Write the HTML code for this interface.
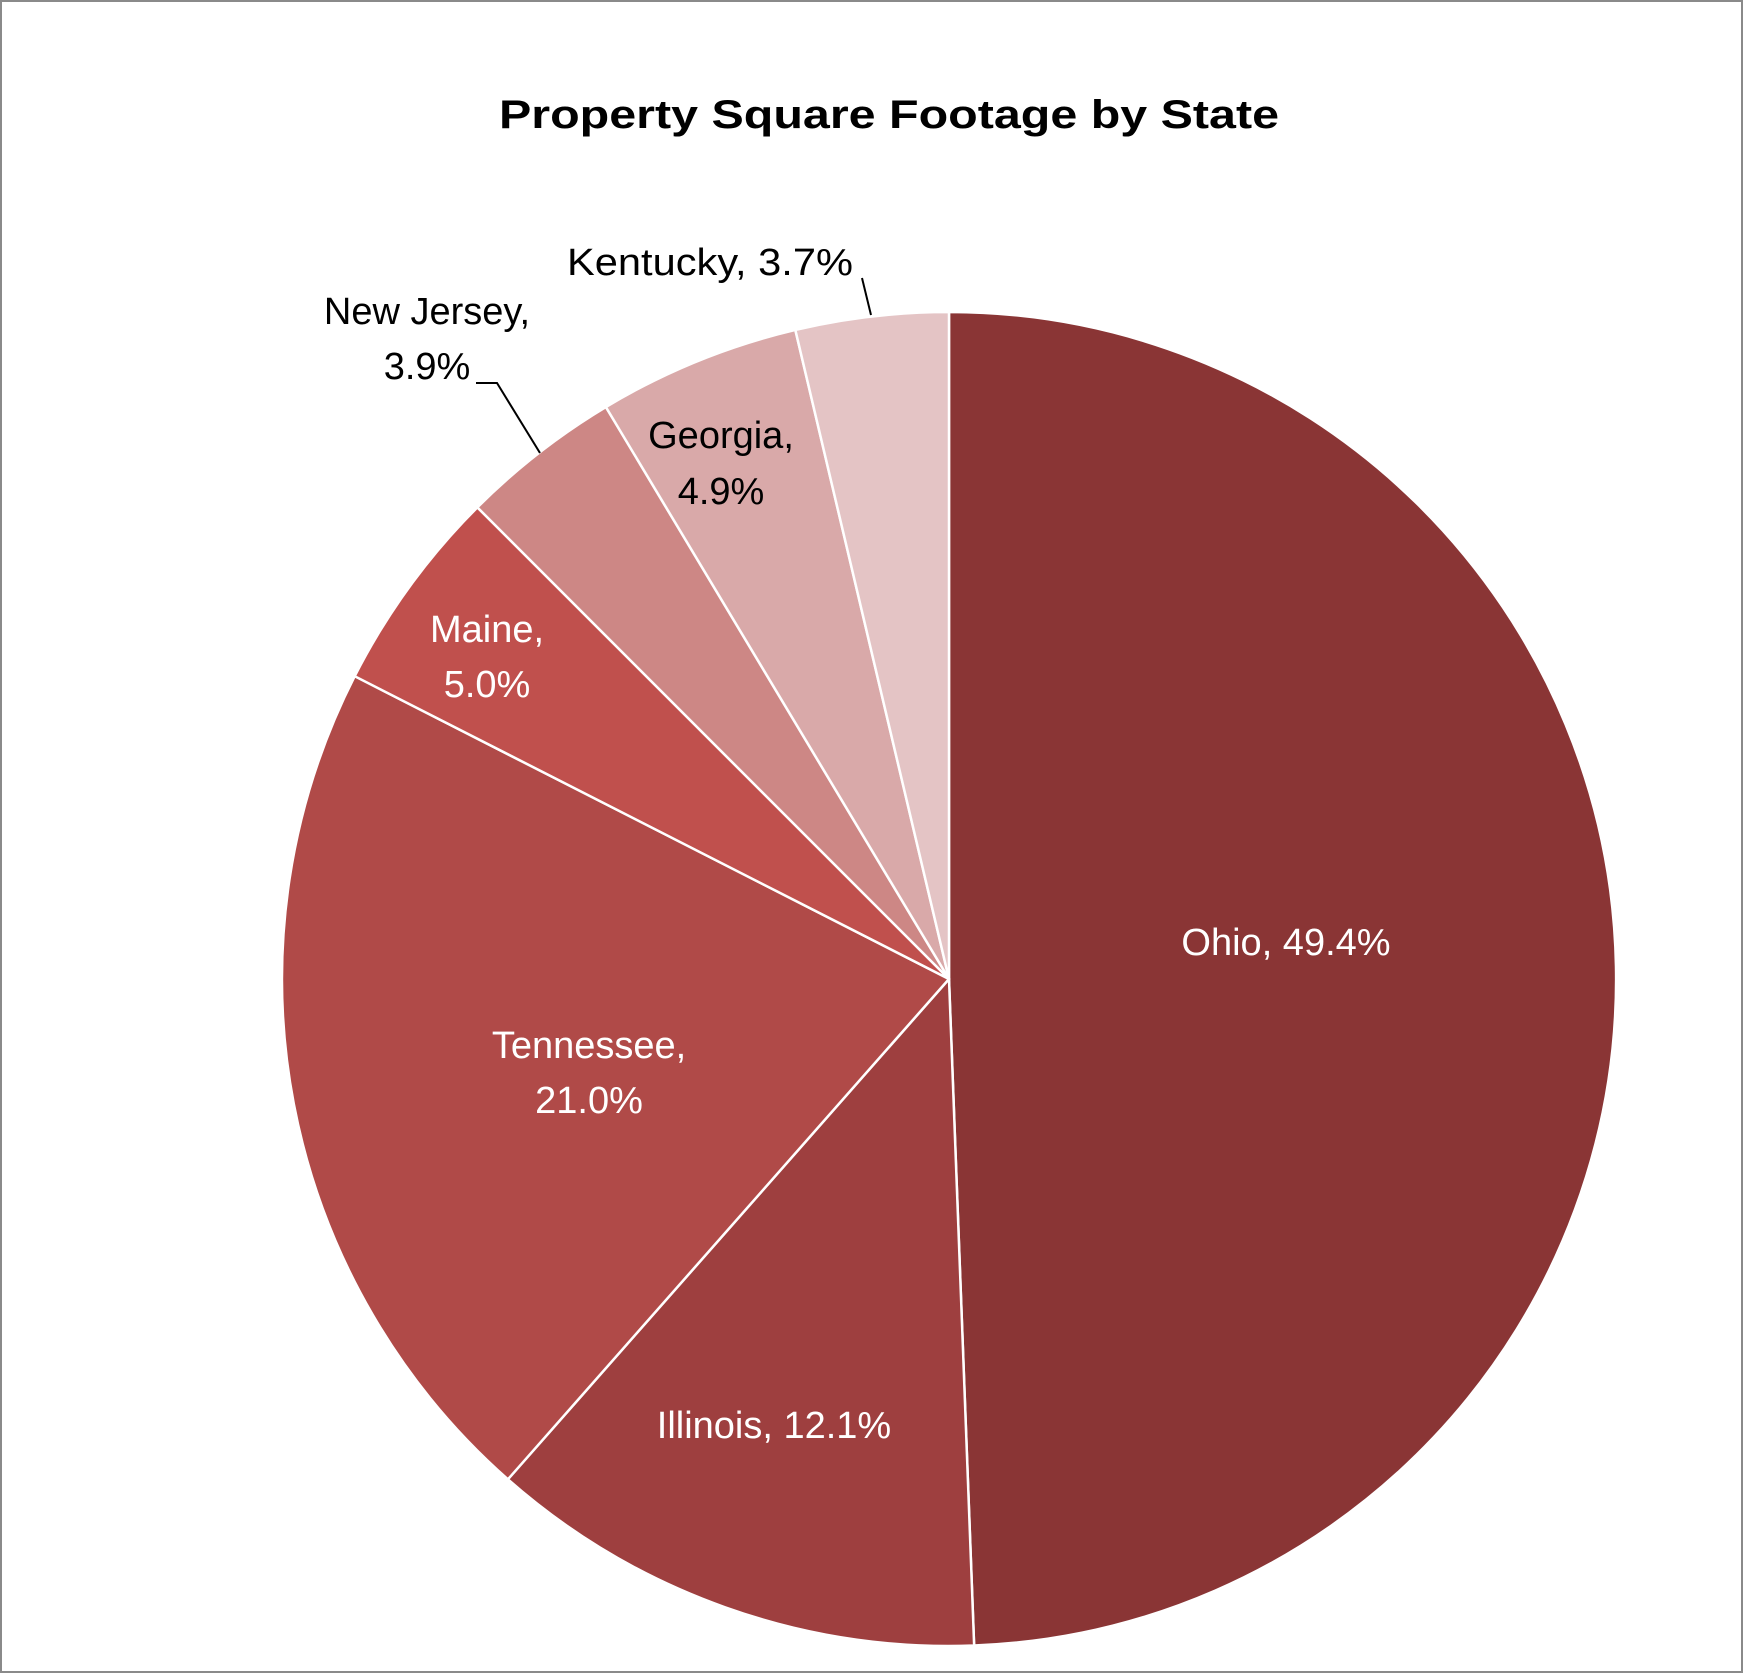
<!DOCTYPE html>
<html><head><meta charset="utf-8"><style>
html,body{margin:0;padding:0;background:#fff;}
svg{display:block;}
text{font-family:"Liberation Sans",sans-serif;}
</style></head><body>
<svg id="s" width="1744" height="1674" viewBox="0 0 1744 1674" xmlns="http://www.w3.org/2000/svg">
<rect x="1" y="1" width="1741" height="1671" fill="#fff" stroke="#8a8a8a" stroke-width="2"/>
<text x="889" y="115" font-size="40" font-weight="bold" text-anchor="middle" dominant-baseline="central" textLength="780" lengthAdjust="spacingAndGlyphs">Property Square Footage by State</text>
<g id="pie"></g>
<g font-size="38" text-anchor="middle" dominant-baseline="central">
<text x="710" y="263" fill="#000" textLength="286" lengthAdjust="spacingAndGlyphs">Kentucky, 3.7%</text>
<text x="427" y="312" fill="#000">New Jersey,</text>
<text x="427" y="367" fill="#000">3.9%</text>
<text x="721" y="436" fill="#000">Georgia,</text>
<text x="721" y="492" fill="#000">4.9%</text>
<text x="487" y="630" fill="#fff">Maine,</text>
<text x="487" y="685" fill="#fff">5.0%</text>
<text x="589" y="1046" fill="#fff">Tennessee,</text>
<text x="589" y="1101" fill="#fff">21.0%</text>
<text x="774" y="1426" fill="#fff">Illinois, 12.1%</text>
<text x="1286" y="943" fill="#fff">Ohio, 49.4%</text>
</g>
<polyline points="476,383 497,383 540,453" fill="none" stroke="#000" stroke-width="2"/>
<polyline points="862,278 871,315" fill="none" stroke="#000" stroke-width="2"/>
</svg>
<script>
(function(){
var cx=949,cy=979,r=667;
var d=[[49.4,"#8A3535"],[12.1,"#9E3F3F"],[21.0,"#B04A48"],[5.0,"#C0504D"],[3.9,"#CD8785"],[4.9,"#D9A9A9"],[3.7,"#E4C4C5"]];
var a=0,g=document.getElementById("pie"),h="";
function pt(t){var rad=t/100*2*Math.PI;return [cx+r*Math.sin(rad),cy-r*Math.cos(rad)];}
d.forEach(function(s){
 var p1=pt(a),p2=pt(a+s[0]);var lg=s[0]>50?1:0;
 h+='<path d="M'+cx+','+cy+' L'+p1[0].toFixed(2)+','+p1[1].toFixed(2)+' A'+r+','+r+' 0 '+lg+' 1 '+p2[0].toFixed(2)+','+p2[1].toFixed(2)+' Z" fill="'+s[1]+'" stroke="#fff" stroke-width="2.5" stroke-linejoin="round"/>';
 a+=s[0];
});
g.innerHTML=h;
})();
</script>
</body></html>
